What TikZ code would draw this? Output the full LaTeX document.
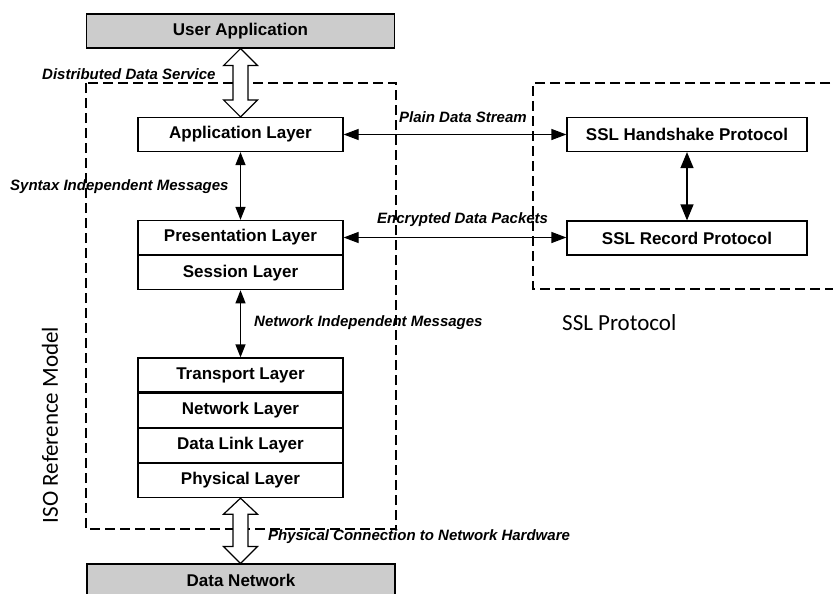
\documentclass[tikz,border=0pt]{standalone}
\usepackage{fontspec}
\setmainfont{Liberation Sans}
\newfontfamily\narrowfont{Carlito}
\usetikzlibrary{arrows.meta,calc}
\begin{document}
\begin{tikzpicture}[x=1pt,y=-1pt,
  layer/.style={draw=black,line width=1.2pt,fill=white,inner sep=0pt,
    minimum width=205pt,minimum height=34pt,
    font=\bfseries\fontsize{17}{19}\selectfont},
  sslbox/.style={layer,minimum width=240pt},
  greybox/.style={layer,fill=black!20,minimum width=308pt},
  lbl/.style={inner sep=0pt,anchor=west,font=\bfseries\itshape\fontsize{15}{17}\selectfont},
  biglbl/.style={inner sep=0pt,font=\narrowfont\fontsize{23}{25}\selectfont},
  dashbox/.style={draw=black,line width=2.6pt,dash pattern=on 10pt off 5pt},
  conn/.style={line width=1.2pt,{Triangle[length=13pt,width=10pt]}-{Triangle[length=13pt,width=10pt]}},
  blockarr/.style={draw=black,line width=1.2pt,fill=white,line join=miter}
]
\useasboundingbox (0,0) rectangle (833,594);

% dashed group boxes
\draw[dashbox] (86,83) rectangle (396,529);
\draw[dashbox] (860,83) -- (533,83) -- (533,289) -- (860,289);

% outer boxes
\node[greybox] (ua) at (240.5,31) {User Application};
\node[greybox,minimum height=40pt] (dn) at (241,584) {};
\node[inner sep=0pt,font=\bfseries\fontsize{17}{19}\selectfont] (dnl) at (241,580) {Data Network};

% ISO layers
\node[layer] (app) at (240.5,134.5) {Application Layer};
\node[layer] (pres) at (240.5,237.5) {Presentation Layer};
\node[layer,anchor=north] (sess) at (pres.south) {Session Layer};
\node[layer] (trans) at (240.5,375) {Transport Layer};
\node[layer,anchor=north] (net) at (trans.south) {Network Layer};
\node[layer,anchor=north] (dll) at (net.south) {Data Link Layer};
\node[layer,anchor=north] (phy) at (dll.south) {Physical Layer};

% SSL boxes
\node[sslbox] (hs) at (687,134.5) {SSL Handshake Protocol};
\node[sslbox] (rec) at (687,238) {SSL Record Protocol};

% connectors
\draw[conn] (app.south) -- (pres.north);
\draw[conn] (sess.south) -- (trans.north);
\draw[conn,{Triangle[length=15pt,width=11pt]}-{Triangle[length=15pt,width=11pt]}] (app.east) -- (app.east -| hs.west);
\draw[conn,{Triangle[length=15pt,width=11pt]}-{Triangle[length=15pt,width=11pt]}] (pres.east) -- (pres.east -| rec.west);
\draw[conn,{Triangle[length=16pt,width=13pt]}-{Triangle[length=16pt,width=13pt]}] (hs.south) -- (rec.north);

% block arrows
\draw[blockarr] let \p1=(ua.south), \p2=(app.north) in
  (\x1,\y1) -- (\x1+17pt,\y1-17pt) -- (\x1+7.5pt,\y1-17pt) -- (\x1+7.5pt,\y2+17pt)
  -- (\x1+17pt,\y2+17pt) -- (\x1,\y2) -- (\x1-17pt,\y2+17pt) -- (\x1-7.5pt,\y2+17pt)
  -- (\x1-7.5pt,\y1-17pt) -- (\x1-17pt,\y1-17pt) -- cycle;
\draw[blockarr] let \p1=(phy.south), \p2=(dn.north) in
  (\x1,\y1) -- (\x1+17pt,\y1-16pt) -- (\x1+7.5pt,\y1-16pt) -- (\x1+7.5pt,\y2+17pt)
  -- (\x1+17pt,\y2+17pt) -- (\x1,\y2) -- (\x1-17pt,\y2+17pt) -- (\x1-7.5pt,\y2+17pt)
  -- (\x1-7.5pt,\y1-16pt) -- (\x1-17pt,\y1-16pt) -- cycle;

% labels
\node[lbl] (l1) at (42,74) {Distributed Data Service};
\node[lbl] (l2) at (10,187) {Syntax Independent Messages};
\node[lbl] (l3) at (399,117) {Plain Data Stream};
\node[lbl] (l4) at (377,220) {Encrypted Data Packets};
\node[lbl] (l5) at (254,323) {Network Independent Messages};
\node[lbl] (l6) at (268,537) {Physical Connection to Network Hardware};
\node[biglbl,anchor=west] (ssl) at (562,323) {SSL Protocol};
\node[biglbl,rotate=90] (iso) at (50,425) {ISO Reference Model};
\end{tikzpicture}
\end{document}
